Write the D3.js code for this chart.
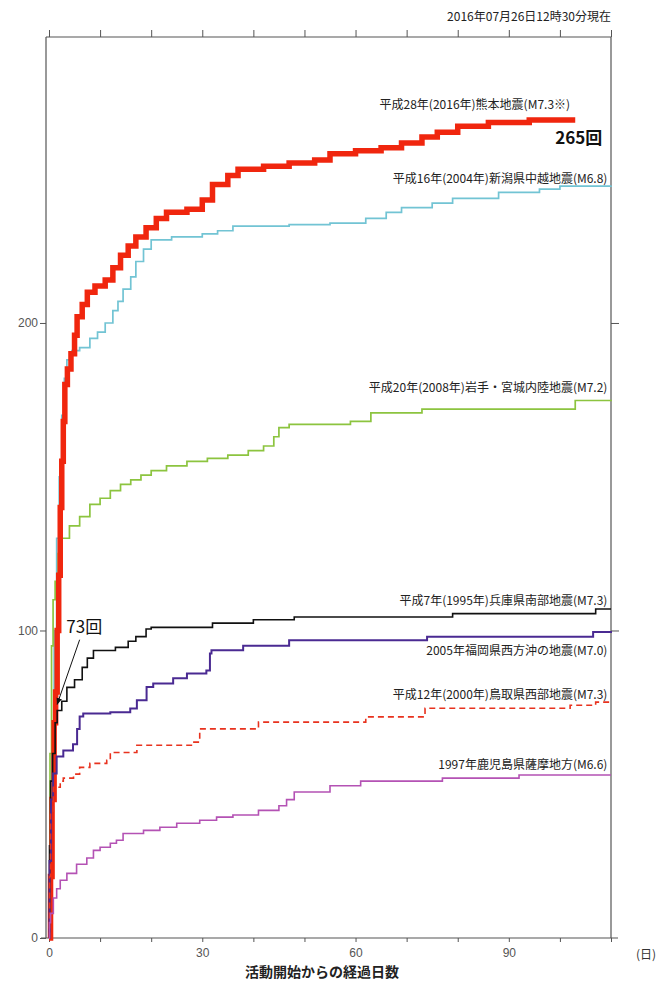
<!DOCTYPE html>
<html>
<head>
<meta charset="utf-8">
<script src="https://cdn.jsdelivr.net/npm/d3@7"></script>
<style>
  body { margin:0; background:#fff; }
  svg text { font-family: "Noto Sans CJK JP", "DejaVu Sans", sans-serif; }
</style>
</head>
<body>
<svg id="chart"></svg>
<script>
// [day, cumulative count]
const kumamoto = [[0,0],[0.3,20],[0.6,45],[1,70],[1.3,80],[1.6,100],[1.9,118],[2.2,140],[2.5,155],[2.8,168],[3.1,180],[3.6,185],[4.3,190],[5,196],[5.5,202],[6.5,206],[7.5,210],[9,212],[11,214],[12.5,218],[14,222],[15.5,225],[17,228],[19,231],[21,234],[23,236],[27,237],[30,240],[32,245],[35,248],[37,250],[42,251],[47,252],[52,253],[55,255],[60,256],[65,257],[69,258.5],[73,260.5],[76,262],[80,264],[86,265.2],[94,266],[103,266]]
const niigata = [[0,0],[0.3,30],[0.6,70],[1,100],[1.5,130],[2,150],[2.5,170],[3,182],[3.5,188],[4.5,191],[6,192],[8,195],[9.5,197],[11,200],[12.5,204],[13.5,207],[14.5,211],[16,215],[17,220],[18.5,224],[20,227],[24,228],[30,229],[33,230],[36,231.5],[47,232],[55,232.5],[62,234],[66,236],[69,237.5],[75,239],[79,240.5],[88,242.5],[96,243.5],[100,244.5],[110,244.7]]
const iwate = [[0,0],[0.2,60],[0.5,95],[0.8,110],[1.2,116],[1.8,125],[2.5,130],[4,134],[6,137],[8,141],[10,143],[12,145.5],[14,147.5],[16,149],[18,150.5],[20,152],[23,153.5],[27,155],[31,156],[35,157],[39,158.5],[42,160],[44,163],[45,166],[47,167],[59,168],[63,170.8],[73,172],[103,174.8],[110,175]]
const hyogo = [[0,0],[0.1,30],[0.3,51],[0.7,60],[1.2,70],[1.6,74],[2.5,77],[3.5,81.5],[5,84],[6.5,88],[7.5,91],[8.7,93.5],[13,94.5],[15.5,96.5],[17,98],[19,100.5],[20,101],[32,102.4],[40,103.5],[48,104.4],[79,105.5],[107,107],[110,107]]
const fukuoka = [[0,0],[0.1,25],[0.4,45],[0.8,53.5],[1.5,59],[2.8,61],[4.7,63],[5.5,68],[6,72],[6.7,73],[12,73.4],[15.9,74.6],[17.2,77.3],[19.1,81.6],[20.4,82.8],[24.3,84.5],[27,86],[30.8,87],[31.5,92.5],[31.8,93.6],[38,95],[47,96.8],[74,98],[106.5,99.5],[110,99.8]]
const tottori = [[0,0],[0.1,20],[0.3,40.5],[0.85,49],[2.2,51],[2.8,52],[4.8,53.3],[6,55.5],[8,56.8],[11.3,57.8],[12,60.3],[17.2,62.7],[28.2,63.7],[29.5,68],[41,70.2],[62,71.9],[73.6,74.7],[102,75.7],[107,76.7],[110,76.7]]
const kagoshima = [[0,0],[0.1,5],[0.3,8],[0.85,13],[1.5,16],[2.2,18.8],[3.5,21],[5.4,24],[7.4,26],[8.7,28.5],[10,29.5],[12,30.8],[13.2,31.8],[14.5,34],[18.5,35],[21.7,36],[25,37.3],[29.5,38.3],[32.8,39.3],[36,40],[41,41.5],[45,43],[46.5,45],[48,47.5],[55,49.5],[61,51],[77,52],[92,53],[110,53]]

const names = ["平成28年(2016年)熊本地震(M7.3※)","平成16年(2004年)新潟県中越地震(M6.8)","平成20年(2008年)岩手・宮城内陸地震(M7.2)","平成7年(1995年)兵庫県南部地震(M7.3)","2005年福岡県西方沖の地震(M7.0)","平成12年(2000年)鳥取県西部地震(M7.3)","1997年鹿児島県薩摩地方(M6.6)"]
// label anchor [day (right end), count]
const labelPos = [[102,270.8],[109.3,247],[109.3,179],[109.3,109.8],[109.3,93.5],[109.3,79],[109.3,56.2]]
const xTicks = [0,10,20,30,40,50,60,70,80,90,100,110]
const xLabels = [0,30,60,90]
const yTicks = [0,100,200]

const W = 667, H = 983
const svg = d3.select('#chart').attr('width',W).attr('height',H)

const x = d3.scaleLinear().domain([0,110]).range([49,611])
const y = d3.scaleLinear().domain([0,293]).range([938,37])

const axisColor = "#555"

// frame
const frame = svg.append('g').attr('stroke',axisColor).attr('stroke-width',1.2)
frame.append('line').attr('x1',46).attr('x2',611).attr('y1',y(293)).attr('y2',y(293))
frame.append('line').attr('x1',46).attr('x2',46).attr('y1',y(293)).attr('y2',y(0))
frame.append('line').attr('x1',611).attr('x2',611).attr('y1',y(293)).attr('y2',y(0))
frame.append('line').attr('x1',41).attr('x2',618).attr('y1',y(0)).attr('y2',y(0))

// top ticks
svg.append('g').attr('transform',`translate(0,${y(293)})`)
  .call(d3.axisTop(x).tickValues(xTicks).tickSize(7).tickFormat(''))
  .call(g=>g.select('.domain').remove())
  .call(g=>g.selectAll('line').attr('stroke',axisColor))

// bottom axis
svg.append('g').attr('transform',`translate(0,${y(0)})`)
  .call(d3.axisBottom(x).tickValues(xTicks).tickSize(4).tickPadding(6)
    .tickFormat(d=>xLabels.includes(d)?d:''))
  .call(g=>g.select('.domain').remove())
  .call(g=>g.selectAll('line').attr('stroke',axisColor))
  .call(g=>g.selectAll('text').attr('fill','#555').style('font-size','12px')
    .style('font-family','"Liberation Sans Narrow","Liberation Sans",sans-serif'))

// left axis
svg.append('g').attr('transform','translate(46,0)')
  .call(d3.axisLeft(y).tickValues(yTicks).tickSize(6).tickPadding(2))
  .call(g=>g.select('.domain').remove())
  .call(g=>g.selectAll('line').attr('stroke',axisColor))
  .call(g=>g.selectAll('text').attr('fill','#555').style('font-size','12px')
    .style('font-family','"Liberation Sans Narrow","Liberation Sans",sans-serif'))

// right ticks
svg.append('g').attr('transform','translate(611,0)')
  .call(d3.axisRight(y).tickValues([100,200]).tickSize(8).tickFormat(''))
  .call(g=>g.select('.domain').remove())
  .call(g=>g.selectAll('line').attr('stroke',axisColor))

const line = d3.line().x(d=>x(d[0])).y(d=>y(d[1])).curve(d3.curveStepAfter)

const series = [
  {data:niigata, color:"#72c4d4", w:1.7},
  {data:iwate, color:"#8cc43f", w:1.7},
  {data:kumamoto, color:"#f0260e", w:5.5},
  {data:hyogo, color:"#111", w:1.6},
  {data:fukuoka, color:"#4a2a92", w:2},
  {data:tottori, color:"#e8321e", w:1.6, dash:"6,4"},
  {data:kagoshima, color:"#b452b4", w:1.6}
]

svg.append('g').selectAll('path')
  .data(series)
  .join('path')
  .attr('d',d=>line(d.data))
  .attr('fill','none')
  .attr('stroke',d=>d.color)
  .attr('stroke-width',d=>d.w)
  .attr('stroke-dasharray',d=>d.dash||null)

// series labels
svg.append('g').selectAll('text')
  .data(names)
  .join('text')
  .attr('x',(d,i)=>x(labelPos[i][0]))
  .attr('y',(d,i)=>y(labelPos[i][1]))
  .attr('dy','0.35em')
  .attr('text-anchor','end')
  .attr('fill','#222')
  .style('font-size','12px')
  .text(d=>d)

// count annotations
svg.append('text')
  .attr('x',x(108.3)).attr('y',y(260)).attr('dy','0.35em')
  .attr('text-anchor','end').attr('fill','#111')
  .style('font-size','17px').style('font-weight','bold')
  .text('265回')

svg.append('text')
  .attr('x',x(3.4)).attr('y',y(101)).attr('dy','0.35em')
  .attr('fill','#111').style('font-size','17px')
  .text('73回')

svg.append('defs').append('marker')
  .attr('id','ah').attr('viewBox','0 0 10 10').attr('refX',9).attr('refY',5)
  .attr('markerWidth',7).attr('markerHeight',7).attr('orient','auto')
  .append('path').attr('d','M0,1L10,5L0,9Z').attr('fill','#111')

svg.append('line')
  .attr('x1',x(6)).attr('y1',y(97))
  .attr('x2',x(1.6)).attr('y2',y(76))
  .attr('stroke','#111').attr('stroke-width',1)
  .attr('marker-end','url(#ah)')

// header & axis title
svg.append('text')
  .attr('x',611).attr('y',21).attr('text-anchor','end')
  .attr('fill','#222').style('font-size','12px')
  .text('2016年07月26日12時30分現在')

svg.append('text')
  .attr('x',646).attr('y',959).attr('text-anchor','middle')
  .attr('fill','#333').style('font-size','12px')
  .text('(日)')

svg.append('text')
  .attr('x',322).attr('y',977).attr('text-anchor','middle')
  .attr('fill','#222').style('font-size','14px').style('font-weight','bold')
  .text('活動開始からの経過日数')
</script>
</body>
</html>
